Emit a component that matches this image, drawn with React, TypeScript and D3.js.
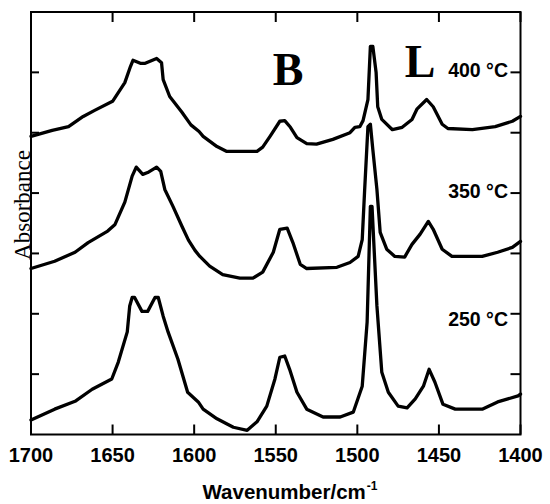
import React from "react";
import * as d3 from "d3";

const xTicks = [1700, 1650, 1600, 1550, 1500, 1450, 1400];
const yTicks = [0, 1, 2, 3, 4, 5];

const wn400 = [1700, 1687, 1677, 1668, 1661, 1650, 1642.5, 1639, 1637.5, 1633, 1630, 1623, 1620, 1619, 1615, 1607.5, 1602, 1597, 1594.5, 1586, 1580, 1561.5, 1558, 1553.5, 1547.5, 1544.5, 1541, 1537, 1531, 1525, 1515, 1504.5, 1501.5, 1498.5, 1496.5, 1493.5, 1492, 1490.5, 1488.5, 1487.5, 1485, 1478.5, 1472.5, 1466.5, 1463.5, 1457.5, 1453.5, 1448, 1444.5, 1429.5, 1415.5, 1405, 1400];
const abs400 = [3.94, 4.04, 4.10, 4.27, 4.37, 4.52, 4.83, 5.10, 5.20, 5.15, 5.15, 5.23, 5.16, 4.88, 4.60, 4.34, 4.13, 4.02, 3.94, 3.77, 3.69, 3.69, 3.76, 3.94, 4.19, 4.20, 4.09, 3.92, 3.82, 3.81, 3.89, 4.00, 4.09, 4.10, 4.20, 4.55, 5.43, 5.43, 5.00, 4.43, 4.22, 4.05, 4.09, 4.22, 4.39, 4.55, 4.43, 4.14, 4.07, 4.05, 4.10, 4.19, 4.27];

const wn350 = [1700, 1685.5, 1673, 1665, 1653, 1648.5, 1642.5, 1638, 1635.5, 1631.5, 1628.5, 1623, 1620.5, 1618, 1613, 1607.5, 1603.5, 1599.5, 1596.5, 1590.5, 1582.5, 1572, 1564, 1558, 1551.5, 1547.5, 1543, 1539.5, 1535, 1531, 1512.5, 1504.5, 1499.5, 1497, 1495.5, 1493.5, 1492, 1490.5, 1488, 1486, 1482, 1477, 1471, 1466.5, 1461.5, 1456.5, 1453.5, 1448, 1442, 1423.5, 1414, 1405, 1400];
const abs350 = [1.75, 1.87, 2.02, 2.18, 2.37, 2.48, 2.85, 3.28, 3.43, 3.31, 3.34, 3.43, 3.36, 3.06, 2.78, 2.45, 2.22, 2.05, 1.95, 1.79, 1.65, 1.59, 1.59, 1.69, 2.02, 2.40, 2.42, 2.18, 1.82, 1.75, 1.77, 1.85, 1.95, 2.23, 3.06, 4.10, 4.14, 3.72, 3.06, 2.35, 2.07, 1.95, 1.94, 2.15, 2.32, 2.53, 2.40, 2.07, 1.95, 1.95, 2.02, 2.10, 2.20];

const wn250 = [1700, 1685.5, 1673, 1662.5, 1650.5, 1646.5, 1641, 1639.5, 1638, 1636.5, 1632, 1628.5, 1624, 1622, 1619, 1616, 1610, 1604, 1597.5, 1594.5, 1586, 1576, 1567.5, 1561.5, 1555.5, 1550.5, 1547.5, 1544.5, 1541.5, 1537, 1531, 1521, 1510.5, 1502.5, 1497, 1494, 1492, 1491, 1488, 1485, 1481, 1475, 1469.5, 1464.5, 1459.5, 1456, 1452.5, 1447.5, 1440, 1423.5, 1414, 1401.5, 1400];
const abs250 = [-0.76, -0.58, -0.45, -0.25, -0.08, 0.20, 0.70, 1.13, 1.27, 1.27, 1.04, 1.04, 1.27, 1.27, 0.96, 0.70, 0.25, -0.30, -0.46, -0.58, -0.74, -0.88, -0.93, -0.79, -0.53, -0.08, 0.28, 0.30, 0.08, -0.30, -0.58, -0.71, -0.71, -0.63, -0.20, 0.86, 2.78, 2.78, 1.13, 0.03, -0.30, -0.53, -0.56, -0.41, -0.20, 0.08, -0.13, -0.50, -0.58, -0.58, -0.46, -0.36, -0.33];

const seriesLabels = ["400 °C", "350 °C", "250 °C"];
const bandLabels = ["B", "L"];

const W = 550;
const H = 504;
const left = 31;
const right = 520.5;
const top = 12;
const bottom = 434.5;

const sans = "'Liberation Sans', Arial, Helvetica, sans-serif";
const serif = "'Liberation Serif', 'Times New Roman', Times, serif";

export default function App() {
  const x = d3.scaleLinear().domain([1700, 1400]).range([left, right]);
  const y = d3.scaleLinear().domain([-1, 6]).range([bottom, top]);
  const line = d3
    .line<[number, number]>()
    .x((d) => x(d[0]))
    .y((d) => y(d[1]));

  const series = [
    { wn: wn400, ab: abs400 },
    { wn: wn350, ab: abs350 },
    { wn: wn250, ab: abs250 },
  ];

  const labelPos = [
    { v: 5, dy: 5 },
    { v: 3, dy: 5 },
    { v: 1, dy: 12 },
  ];

  return (
    <svg
      width={W}
      height={H}
      style={{ position: "absolute", left: 0, top: 0, background: "#fff" }}
    >
      <rect x={0} y={0} width={W} height={H} fill="#fff" />
      {series.map((s, i) => (
        <path
          key={i}
          d={line(s.wn.map((w, j) => [w, s.ab[j]] as [number, number])) || ""}
          fill="none"
          stroke="#000"
          strokeWidth={3.3}
          strokeLinejoin="round"
          strokeLinecap="round"
        />
      ))}
      <rect
        x={left}
        y={top}
        width={right - left}
        height={bottom - top}
        fill="none"
        stroke="#000"
        strokeWidth={2}
      />
      {xTicks.map((t) => (
        <g key={t}>
          <line x1={x(t)} x2={x(t)} y1={bottom} y2={bottom - 10} stroke="#000" strokeWidth={2} />
          <line x1={x(t)} x2={x(t)} y1={top} y2={top + 10} stroke="#000" strokeWidth={2} />
          <text
            x={x(t)}
            y={462}
            textAnchor="middle"
            fontFamily={sans}
            fontWeight="bold"
            fontSize={20}
            fill="#000"
          >
            {t}
          </text>
        </g>
      ))}
      {yTicks.map((t) => (
        <g key={t}>
          <line x1={left} x2={left + 8} y1={y(t)} y2={y(t)} stroke="#000" strokeWidth={2} />
          <line x1={right} x2={right - 10} y1={y(t)} y2={y(t)} stroke="#000" strokeWidth={2} />
        </g>
      ))}
      {seriesLabels.map((l, i) => (
        <text
          key={l}
          x={508}
          y={y(labelPos[i].v) + labelPos[i].dy}
          textAnchor="end"
          fontFamily={sans}
          fontWeight="bold"
          fontSize={19.5}
          fill="#000"
        >
          {l}
        </text>
      ))}
      <text x={288} y={85} textAnchor="middle" fontFamily={serif} fontWeight="bold" fontSize={46} fill="#000">
        {bandLabels[0]}
      </text>
      <text x={420} y={77} textAnchor="middle" fontFamily={serif} fontWeight="bold" fontSize={46} fill="#000">
        {bandLabels[1]}
      </text>
      <text
        transform={`translate(29.5,205) rotate(-90)`}
        textAnchor="middle"
        fontFamily={serif}
        fontSize={23}
        fill="#000"
      >
        Absorbance
      </text>
      <text x={290} y={499} textAnchor="middle" fontFamily={sans} fontWeight="bold" fontSize={20.5} fill="#000">
        Wavenumber/cm
        <tspan fontSize={12} dx={1} dy={-9}>
          -1
        </tspan>
      </text>
    </svg>
  );
}
